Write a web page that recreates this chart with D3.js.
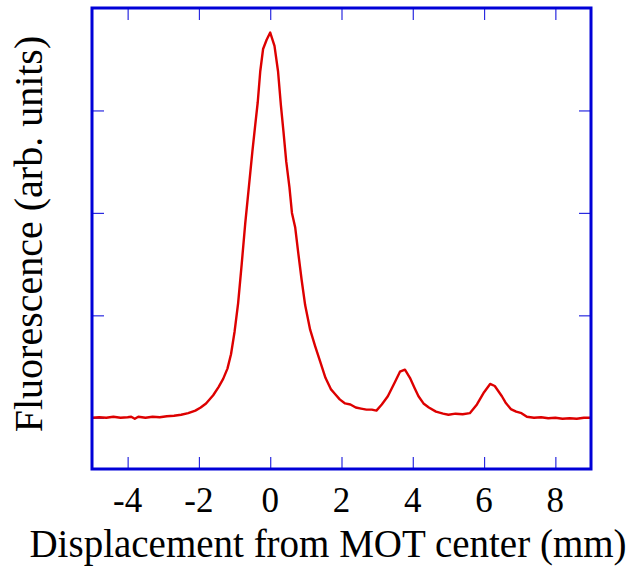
<!DOCTYPE html>
<html>
<head>
<meta charset="utf-8">
<script src="https://cdn.jsdelivr.net/npm/d3@7"></script>
<style>
  body { margin: 0; background: #fff; }
</style>
</head>
<body>
<div id="content"></div>
<script>
// displacement (mm) and fluorescence (arb. units)
const displacement = [-5.0,-4.8,-4.6,-4.4,-4.2,-4.0,-3.9,-3.8,-3.7,-3.5,-3.3,-3.1,-2.9,-2.7,-2.5,-2.3,-2.1,-1.95,-1.8,-1.6,
  -1.45,-1.32,-1.2,-1.1,-1.0,-0.9,-0.8,-0.7,-0.6,-0.5,-0.42,-0.35,-0.28,-0.2,-0.1,0.0,0.12,0.22,0.3,0.37,
  0.45,0.54,0.61,0.7,0.79,0.88,0.98,1.12,1.26,1.4,1.55,1.7,1.8,1.95,2.1,2.25,2.4,2.55,2.7,2.85,
  2.98,3.13,3.3,3.5,3.64,3.78,3.92,4.05,4.16,4.3,4.45,4.65,4.85,5.0,5.2,5.4,5.6,5.8,6.0,6.17,
  6.3,6.5,6.6,6.75,6.9,7.05,7.2,7.4,7.6,7.8,8.0,8.2,8.4,8.6,8.8,9.0];
const fluorescence = [0.0,0.005,0.0,0.01,0.0,0.005,0.01,-0.01,0.01,0.0,0.01,0.005,0.015,0.02,0.03,0.045,0.07,0.10,0.14,0.22,
  0.30,0.38,0.48,0.62,0.84,1.12,1.50,1.90,2.25,2.60,2.86,3.08,3.38,3.60,3.69,3.76,3.63,3.38,3.05,2.80,
  2.50,2.25,2.00,1.86,1.60,1.35,1.10,0.86,0.70,0.55,0.39,0.28,0.24,0.18,0.14,0.13,0.10,0.09,0.08,0.08,
  0.07,0.13,0.21,0.35,0.45,0.47,0.39,0.29,0.21,0.14,0.10,0.06,0.04,0.03,0.04,0.035,0.045,0.13,0.25,0.33,
  0.31,0.21,0.15,0.085,0.06,0.045,0.01,0.0,0.005,-0.005,0.0,-0.01,-0.005,-0.01,0.0,0.0];
const xTicks = [-4,-2,0,2,4,6,8];
const yTicks = [0,1,2,3];

const W = 628, H = 569;
const mLeft = 92, mRight = 591, mTop = 8, mBottom = 469;
const frameColor = "#0000d8", tickColor = "#2a2ae0";
const serif = "'Liberation Serif', 'Times New Roman', Times, 'DejaVu Serif', serif";

const x = d3.scaleLinear().domain([-5, 9]).range([mLeft, mRight]);
const y = d3.scaleLinear().domain([-0.5, 4]).range([mBottom, mTop]);

const svg = d3.select("#content").append("svg")
    .attr("width", W)
    .attr("height", H);

// inward ticks on all four sides
const tickLen = 12;
svg.append("g")
    .attr("transform", "translate(0," + mBottom + ")")
    .call(d3.axisBottom(x).tickValues(xTicks).tickSize(-tickLen).tickFormat(""))
    .call(g => g.select(".domain").remove());
svg.append("g")
    .attr("transform", "translate(0," + mTop + ")")
    .call(d3.axisTop(x).tickValues(xTicks).tickSize(-tickLen).tickFormat(""))
    .call(g => g.select(".domain").remove());
svg.append("g")
    .attr("transform", "translate(" + mLeft + ",0)")
    .call(d3.axisLeft(y).tickValues(yTicks).tickSize(-tickLen).tickFormat(""))
    .call(g => g.select(".domain").remove());
svg.append("g")
    .attr("transform", "translate(" + mRight + ",0)")
    .call(d3.axisRight(y).tickValues(yTicks).tickSize(-tickLen).tickFormat(""))
    .call(g => g.select(".domain").remove());
svg.selectAll(".tick line").attr("stroke", tickColor).attr("stroke-width", 1.2);

// tick labels below the frame
svg.selectAll(".xlabel")
    .data(xTicks)
    .enter()
        .append("text")
        .attr("class", "xlabel")
        .attr("x", d => x(d))
        .attr("y", 512)
        .attr("text-anchor", "middle")
        .attr("font-family", serif)
        .attr("font-size", 35)
        .text(d => d);

// the trace
const line = d3.line()
    .x((d, i) => x(displacement[i]))
    .y(d => y(d));
svg.append("path")
    .datum(fluorescence)
    .attr("fill", "none")
    .attr("stroke", "#dd0000")
    .attr("stroke-width", 2.4)
    .attr("stroke-linejoin", "round")
    .attr("d", line);

// frame
svg.append("rect")
    .attr("x", mLeft)
    .attr("y", mTop)
    .attr("width", mRight - mLeft)
    .attr("height", mBottom - mTop)
    .attr("fill", "none")
    .attr("stroke", frameColor)
    .attr("stroke-width", 3);

// axis titles
svg.append("text")
    .attr("x", 328)
    .attr("y", 557)
    .attr("text-anchor", "middle")
    .attr("font-family", serif)
    .attr("font-size", 39)
    .text("Displacement from MOT center (mm)");
svg.append("text")
    .attr("transform", "translate(42,234) rotate(-90)")
    .attr("text-anchor", "middle")
    .attr("font-family", serif)
    .attr("font-size", 40)
    .text("Fluorescence (arb. units)");
</script>
</body>
</html>
